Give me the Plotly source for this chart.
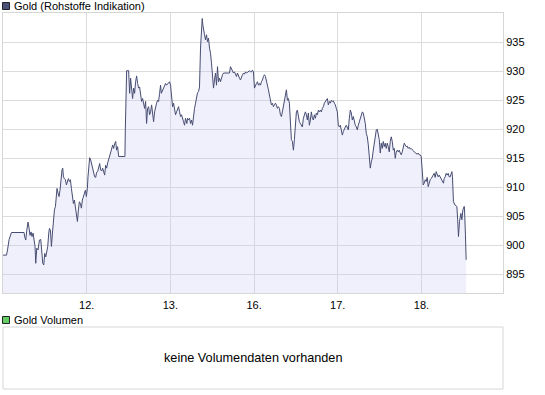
import plotly.graph_objects as go

# ---- data (hours since start of the 11th, trading days of 24h each) ----
day_labels = ["12.", "13.", "16.", "17.", "18."]
day_ticks_h = [24, 48, 72, 96, 120]
y_ticks = [895, 900, 905, 910, 915, 920, 925, 930, 935]

hours = [
    0.0, 1.00, 1.29, 1.75, 2.43, 6.04, 6.24, 6.53, 6.82, 7.19, 7.48, 7.76, 8.05, 8.33, 8.62, 8.91,
    9.19, 9.39, 9.68, 10.05, 10.45, 10.83, 11.11, 11.40, 11.69, 11.97, 12.26, 12.54, 12.83, 13.12,
    13.32, 13.60, 13.89, 14.18, 14.46, 14.75, 15.04, 15.32, 15.49, 15.78, 16.07, 16.35, 16.64,
    16.93, 17.13, 17.33, 17.61, 17.90, 18.19, 18.47, 18.76, 19.05, 19.33, 19.62, 19.90, 20.19,
    20.48, 20.76, 21.05, 21.34, 21.62, 21.91, 22.20, 22.48, 22.77, 23.06, 23.34, 23.63, 23.91,
    24.20, 24.37, 24.57, 24.86, 25.15,
    25.43, 25.72, 26.01, 26.29, 26.58, 26.86, 27.15, 27.44, 27.72, 28.01, 28.30, 28.58, 28.87,
    29.16, 29.44, 29.73, 30.02, 30.30, 30.67, 31.07, 31.45, 31.73, 32.02, 32.31, 32.59, 32.88,
    33.17, 34.97, 35.08, 35.26, 35.46, 36.03, 36.12, 36.32, 36.60, 36.89, 37.17, 37.46, 37.75,
    38.03, 38.32, 38.61, 38.89, 39.18, 39.47, 39.75, 40.04, 40.33, 40.61, 40.90, 41.18, 41.47,
    41.76, 42.04, 42.33, 42.62, 42.90, 43.19, 43.48, 43.76, 44.05, 44.34, 44.62, 44.91, 45.19,
    45.40, 45.77, 46.05, 46.34, 46.63, 46.91, 47.20, 47.49, 47.77, 48.06, 48.35, 48.63, 48.92,
    49.20, 49.49, 49.78, 50.06, 50.35, 50.64, 50.92, 51.21, 51.50, 51.78, 52.07,
    52.35, 52.73, 52.93, 53.21, 53.50, 53.79, 54.07, 54.36, 54.65, 54.93, 55.22, 55.50, 55.79,
    56.08, 56.36, 56.65, 56.94, 57.14, 57.31, 57.51, 57.80, 58.08, 58.37, 58.65, 58.94, 59.23,
    59.51, 59.80, 60.09, 60.37, 60.66, 60.95, 61.23, 61.52, 61.81, 62.09, 62.38, 62.66, 62.95,
    63.24, 64.96, 65.24, 65.53, 65.81, 66.10, 66.39, 66.67, 66.96, 67.25, 67.53, 67.82, 68.11,
    68.39, 68.68, 68.97, 69.25, 69.54, 69.82, 70.11, 70.40, 70.68, 70.97, 71.26, 71.54, 71.83,
    72.12, 72.40, 72.69, 72.97, 73.26, 73.55, 73.83, 74.12, 74.41, 74.69, 74.98, 75.27, 75.55,
    75.84, 76.13, 76.41, 76.70, 76.98, 77.27, 77.56, 77.84, 78.13, 78.42, 78.70, 78.99, 79.28,
    79.56, 79.85, 80.13, 80.42, 80.71, 80.99, 81.28, 81.57, 81.85, 82.14, 82.43, 82.51, 82.71,
    83.00, 83.29, 83.57, 83.86, 84.14, 84.43, 84.72, 85.00, 85.29, 85.58, 85.86, 86.15, 86.44,
    86.72, 87.01, 87.29, 87.58, 87.87, 88.15, 88.44, 88.73, 89.01, 89.30, 89.59, 89.87, 90.16,
    90.45, 90.73, 91.02, 91.30, 91.59, 91.88, 92.16, 92.45, 92.74, 93.02, 93.31, 93.60, 93.88,
    94.17, 94.45, 94.74, 95.03, 95.31, 95.60, 95.89, 96.17, 96.46, 96.75, 97.03, 97.32, 97.60,
    97.89, 98.18, 98.46, 98.75, 99.04, 99.32, 99.61, 99.90, 100.18, 100.47, 100.76, 101.04,
    101.33, 101.62, 101.90, 102.19, 102.47, 102.76, 103.05, 103.33, 103.62, 103.91, 104.19,
    104.48, 104.77, 105.05, 105.34, 105.63, 105.91, 106.20, 106.48, 106.77,
    107.06, 107.34, 107.63, 107.92, 108.20, 108.49, 108.78, 109.06, 109.35, 109.63, 109.92,
    110.21, 110.49, 110.78, 111.07, 111.35, 111.64, 111.93, 112.21, 112.50, 112.78, 113.07,
    113.36, 113.64, 113.93, 114.22, 114.50, 114.79, 115.08, 115.36, 115.65, 115.93, 116.22,
    116.51, 116.79, 117.08, 117.37, 117.65, 117.94, 118.23, 118.51, 118.80, 119.08, 119.37,
    119.66, 119.94, 120.23, 120.52, 120.80, 121.09, 121.38, 121.66, 121.95, 122.24, 122.52,
    122.81, 123.09, 123.38, 123.67, 123.95, 124.24, 124.53, 124.81, 125.10, 125.39, 125.67,
    125.96, 126.33, 126.53, 126.82, 127.10, 127.39, 127.68, 127.96, 128.25, 128.54, 128.74,
    128.91, 129.19, 129.68, 130.17, 130.40, 130.63, 130.92, 131.32, 131.61, 131.89, 132.27,
    132.35, 132.63, 132.83,
]

price = [
    898.3, 898.3, 899.2, 901.0, 902.2, 902.2, 901.4, 900.9, 902.6, 904.0, 902.9, 901.7, 902.3, 901.5, 902.1, 901.2,
    899.8, 896.9, 899.5, 899.2, 900.9, 901.0, 899.2, 896.9, 896.6, 898.6, 898.0, 898.9, 899.8, 902.1,
    902.9, 902.6, 899.8, 902.1, 904.4, 906.1, 906.7, 908.1, 909.8, 909.0, 908.4, 909.5, 911.5,
    913.0, 913.3, 911.8, 911.5, 911.3, 910.4, 911.0, 911.5, 911.0, 911.3, 909.8, 907.8, 907.2,
    907.8, 906.4, 905.2, 904.1, 906.1, 907.5, 907.2, 906.4, 907.8, 908.4, 909.0, 909.5, 908.4,
    909.8, 911.8, 914.1, 915.1, 914.7,
    914.1, 913.3, 912.7, 911.8, 911.7, 912.6, 912.7, 913.8, 914.1, 913.0, 912.8, 913.3, 912.7,
    912.1, 913.8, 913.3, 914.2, 914.7, 915.6, 916.4, 917.3, 916.7, 917.5, 917.9, 916.4, 917.0,
    915.3, 915.3, 919.9, 927.3, 930.1, 930.1, 927.3, 926.2, 928.8, 926.8, 925.3, 927.1, 926.2,
    928.2, 929.2, 927.9, 927.1, 927.3, 926.2, 924.8, 925.3, 924.2, 923.6, 924.8, 921.0, 923.6,
    923.9, 922.5, 923.0, 924.2, 922.5, 921.3, 923.0, 923.9, 924.5, 925.0, 924.8, 926.2, 927.6,
    926.2, 926.8, 927.3, 927.6, 927.9, 927.6, 927.8, 927.9, 928.2, 927.6, 924.8, 923.9, 924.5,
    923.3, 922.5, 923.0, 923.6, 923.9, 923.0, 922.2, 922.5, 921.6, 921.3, 920.7,
    921.9, 921.0, 921.9, 921.6, 921.9, 921.0, 921.6, 920.7, 922.8, 923.6, 924.5, 925.9, 926.3,
    926.5, 927.3, 934.0, 936.5, 939.1, 938.0, 936.8, 936.3, 935.4, 936.3, 935.1, 935.7, 934.0,
    933.1, 931.4, 929.1, 927.1, 928.5, 929.7, 927.6, 930.8, 928.2, 928.8, 928.2, 929.1, 929.4,
    929.7, 929.7, 930.8, 930.5, 930.2, 929.7, 929.9, 929.5, 929.1, 929.7, 929.1, 928.8, 928.5,
    929.1, 929.4, 929.7, 929.5, 929.9, 929.7, 929.8, 929.9, 930.1, 929.9, 929.9, 930.2, 929.9,
    927.1, 927.6, 927.9, 928.2, 927.6, 927.9, 927.6, 928.2, 928.5, 929.1, 929.4, 929.1, 928.5,
    927.6, 926.8, 925.9, 924.8, 924.2, 924.5, 923.9, 924.2, 924.5, 924.2, 923.6, 923.9, 923.6,
    922.5, 922.2, 923.0, 923.9, 925.3, 926.2, 926.8, 925.0, 925.3, 924.5, 920.7, 918.4, 918.2,
    917.9, 916.4, 918.2, 921.3, 923.0, 923.3, 921.9, 921.3, 921.0, 920.7, 920.4, 921.9, 922.8,
    923.0, 922.5, 921.6, 922.8, 920.7, 921.6, 923.0, 921.9, 921.6, 922.5, 921.9, 922.8, 922.5,
    923.3, 923.0, 923.3, 923.0, 923.6, 923.9, 924.5, 924.8, 925.0, 925.3, 924.2, 924.8, 924.5,
    925.0, 924.8, 924.9, 924.5, 924.2, 923.6, 923.0, 920.7, 920.4, 920.7, 919.9, 919.0, 919.6,
    920.2, 920.4, 920.7, 920.4, 919.9, 921.9, 923.3, 922.8, 921.6, 922.2, 921.3, 920.7,
    920.4, 919.9, 920.7, 921.3, 921.6, 922.5, 923.0, 922.8, 921.9, 921.0, 919.3,
    918.7, 917.3, 915.6, 913.3, 914.4, 915.0, 916.4, 917.6, 918.2,
    919.9, 920.0, 919.3, 918.2, 915.9, 917.6, 916.7, 917.9, 917.0, 917.6, 916.7,
    917.6, 917.0, 916.1, 917.9, 918.7, 917.9, 916.4, 916.7, 915.0, 916.1, 916.4,
    916.1, 916.4, 915.9, 915.6, 916.1, 917.0, 917.6, 917.3, 917.0, 917.1, 916.7,
    916.9, 916.6, 916.7, 916.4, 916.3, 916.1, 916.0, 915.9, 915.7, 915.9, 915.6,
    915.6, 915.3, 913.0, 910.4, 910.7, 911.3, 911.0, 911.7, 910.1, 911.0, 911.3,
    911.5, 911.9, 912.1, 912.4, 911.7, 912.7, 912.3, 911.8, 912.1, 911.8, 911.5,
    911.3, 910.7, 911.5, 911.8, 912.4, 912.1, 912.4, 911.8, 911.8, 912.4, 912.7,
    911.8, 907.5, 906.9, 906.7, 904.4, 901.5, 904.1, 905.5, 904.4, 906.1, 906.7,
    906.4, 901.8, 897.5,
]

title_main = "Gold (Rohstoffe Indikation)"
title_vol = "Gold Volumen"
no_vol_text = "keine Volumendaten vorhanden"

W, H = 545, 395
FONT = "Liberation Sans"
GRID = "#dcdcdc"
FRAME = "#d6d6d6"
TXT = "#000"


def px(x):
    return x / W


def py(y):
    return 1 - y / H


fig = go.Figure()
fig.add_trace(go.Scatter(
    x=hours, y=price, mode="lines",
    line=dict(color="#474d72", width=1),
    fill="tozeroy", fillcolor="rgba(200,200,245,0.27)",
    hoverinfo="skip", showlegend=False,
))

fig.update_layout(
    width=W, height=H,
    margin=dict(l=0, r=0, t=0, b=0),
    paper_bgcolor="white", plot_bgcolor="white",
    showlegend=False,
    font=dict(family=FONT, size=11, color=TXT),
    xaxis=dict(
        domain=[px(3), px(503)], range=[0, 143.4],
        tickvals=day_ticks_h, ticktext=day_labels,
        showgrid=True, gridcolor=GRID, gridwidth=1,
        zeroline=False, ticks="", showline=True, mirror=True,
        linecolor=FRAME, linewidth=1, automargin=False,
        ticklabelstandoff=2,
        tickfont=dict(family=FONT, size=11, color=TXT),
    ),
    yaxis=dict(
        domain=[py(293), py(13)], range=[891.77, 940.05],
        tickvals=y_ticks, ticktext=[str(v) for v in y_ticks],
        side="right", showgrid=True, gridcolor=GRID, gridwidth=1,
        zeroline=False, ticks="", showline=True, mirror=True,
        linecolor=FRAME, linewidth=1, automargin=False,
        tickfont=dict(family=FONT, size=11, color=TXT),
    ),
)

shapes = [
    # legend square main
    dict(type="rect", xref="paper", yref="paper",
         x0=px(2.5), x1=px(9.5), y0=py(9.5), y1=py(2.5),
         fillcolor="#4b5178", line=dict(color="#222", width=1)),
    # legend square volume
    dict(type="rect", xref="paper", yref="paper",
         x0=px(2.5), x1=px(9.5), y0=py(323.5), y1=py(316.5),
         fillcolor="#66cc66", line=dict(color="#222", width=1)),
    # volume panel frame
    dict(type="rect", xref="paper", yref="paper",
         x0=px(3), x1=px(503), y0=py(389), y1=py(327),
         fillcolor="rgba(0,0,0,0)", line=dict(color=FRAME, width=1)),
]
fig.update_layout(shapes=shapes)

fig.add_annotation(text=title_main, xref="paper", yref="paper",
                   x=px(12), y=py(6.5), xanchor="left", yanchor="middle",
                   showarrow=False, font=dict(family=FONT, size=11, color=TXT))
fig.add_annotation(text=title_vol, xref="paper", yref="paper",
                   x=px(12), y=py(320), xanchor="left", yanchor="middle",
                   showarrow=False, font=dict(family=FONT, size=11, color=TXT))
fig.add_annotation(text=no_vol_text, xref="paper", yref="paper",
                   x=px(253), y=py(358), xanchor="center", yanchor="middle",
                   showarrow=False, font=dict(family=FONT, size=12.7, color=TXT))

fig.write_html(
    "out.html",
    config={"displayModeBar": False, "staticPlot": True},
    post_script="document.body.style.margin='0';document.body.style.padding='0';",
)
